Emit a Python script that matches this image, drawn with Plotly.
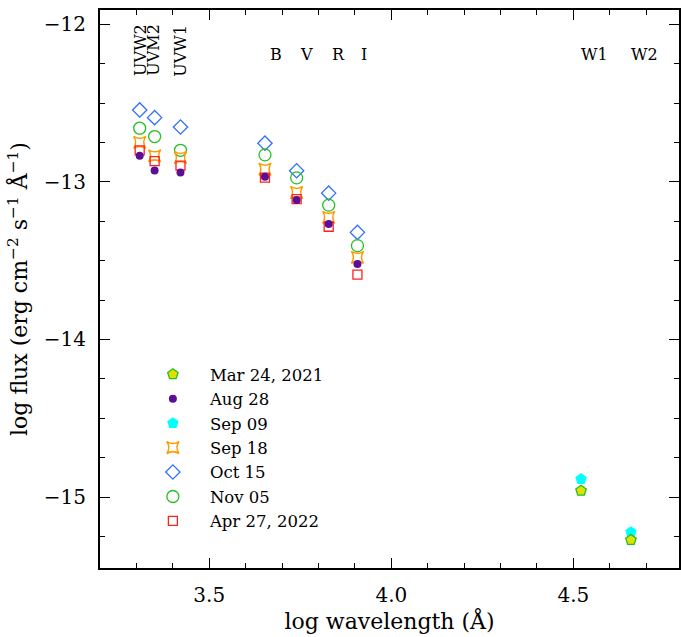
import plotly.graph_objects as go

# Filter positions (log wavelength, Angstrom)
uvot_x = [3.309, 3.350, 3.421, 3.653, 3.740, 3.828, 3.907]
wise_x = [4.521, 4.658]

# Filter labels
uv_labels = ["UVW2", "UVM2", "UVW1"]
uv_label_x = [3.309, 3.347, 3.421]
opt_labels = ["B", "V", "R", "I", "W1", "W2"]
opt_label_x = [3.683, 3.768, 3.855, 3.926, 4.557, 4.694]

# log flux values per epoch
mar24 = [-14.96, -15.272]
aug28 = [-12.835, -12.929, -12.941, -12.968, -13.116, -13.268, -13.521]
sep09 = [-14.886, -15.223]
sep18 = [-12.75, -12.835, -12.846, -12.92, -13.068, -13.226, -13.479]
oct15 = [-12.544, -12.593, -12.652, -12.755, -12.93, -13.072, -13.321]
nov05 = [-12.66, -12.713, -12.80, -12.829, -12.975, -13.148, -13.405]
apr27 = [-12.80, -12.869, -12.897, -12.973, -13.11, -13.285, -13.589]

FONT = "DejaVu Serif"

fig = go.Figure()

def add(x, y, name, rank, **marker):
    fig.add_trace(go.Scatter(x=x, y=y, mode="markers", name=name,
                             legendrank=rank, marker=marker))

add(uvot_x, oct15, "Oct 15", 5, symbol="diamond-open", size=11,
    color="#2f6fff", line=dict(width=1.3))
add(uvot_x, nov05, "Nov 05", 6, symbol="circle-open", size=12,
    color="#22c022", line=dict(width=1.3))
add(uvot_x, sep18, "Sep 18", 4, symbol="star-square-open", size=11,
    color="#ff9a00", line=dict(width=1.5))
add(uvot_x, apr27, "Apr 27, 2022", 7, symbol="square-open", size=9,
    color="#ff2020", line=dict(width=1.3))
add(uvot_x, aug28, "Aug 28", 2, symbol="circle", size=8,
    color="#5a0f96", line=dict(width=0))
add(wise_x, sep09, "Sep 09", 3, symbol="pentagon", size=12,
    color="#00ffff", line=dict(width=0))
add(wise_x, mar24, "Mar 24, 2021", 1, symbol="pentagon", size=11,
    color="#e0e000", line=dict(width=1.3, color="#20c020"))

for t, xv in zip(uv_labels, uv_label_x):
    fig.add_annotation(x=xv, y=-12.165, xref="x", yref="y", text=t,
                       textangle=-90, showarrow=False,
                       font=dict(family=FONT, size=16, color="black"))
for t, xv in zip(opt_labels, opt_label_x):
    fig.add_annotation(x=xv, y=-12.19, xref="x", yref="y", text=t,
                       showarrow=False,
                       font=dict(family=FONT, size=16, color="black"))

axis_common = dict(showgrid=False, zeroline=False, showline=True,
                   linecolor="black", linewidth=2, mirror="allticks",
                   ticks="inside", ticklen=10, tickwidth=1.3,
                   tickcolor="black", ticklabelstandoff=8,
                   tickfont=dict(family=FONT, size=20, color="black"))

fig.update_xaxes(range=[3.2, 4.79], tick0=3.5, dtick=0.5, tickformat=".1f",
                 minor=dict(dtick=0.1, tick0=3.5, ticklen=5, ticks="inside",
                            tickcolor="black", tickwidth=1.2),
                 title=dict(text="log wavelength (Å)", standoff=8,
                            font=dict(family=FONT, size=22, color="black")),
                 **axis_common)
fig.update_yaxes(range=[-15.45, -11.91], tick0=-12, dtick=1,
                 minor=dict(dtick=0.25, tick0=-12, ticklen=5, ticks="inside",
                            tickcolor="black", tickwidth=1.2),
                 title=dict(text="log flux (erg cm<sup>−2</sup> s<sup>−1</sup> Å<sup>−1</sup>)",
                            standoff=10,
                            font=dict(family=FONT, size=22, color="black")),
                 **axis_common)

fig.update_layout(
    width=681, height=637,
    margin=dict(l=100, r=0, t=10, b=69),
    plot_bgcolor="white", paper_bgcolor="white",
    showlegend=True,
    legend=dict(x=(136 - 100) / 581, y=(568 - 357) / 558, xanchor="left",
                yanchor="top", bgcolor="rgba(0,0,0,0)", itemwidth=64,
                font=dict(family=FONT, size=16.5, color="black"),
                tracegroupgap=0),
)

fig.write_html("out.html")
